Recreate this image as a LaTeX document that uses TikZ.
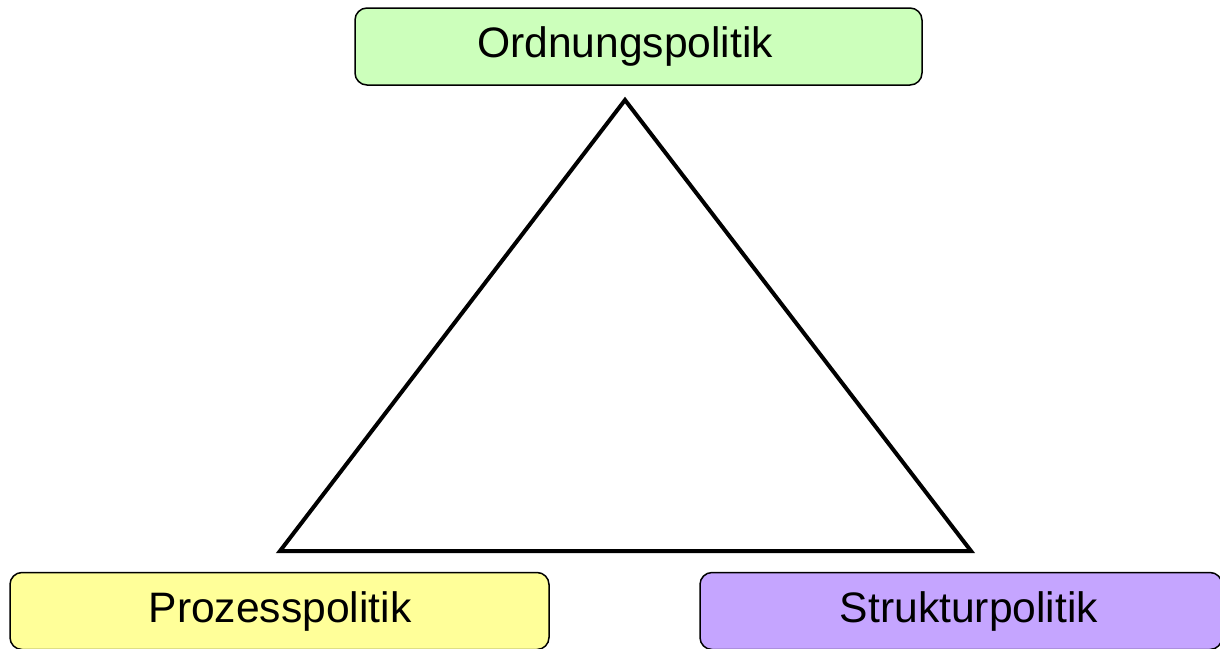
\documentclass[tikz,border=0pt]{standalone}
\usepackage{fontspec}
\setmainfont{Liberation Sans}
\definecolor{boxgreen}{RGB}{204,255,187}
\definecolor{boxyellow}{RGB}{255,255,153}
\definecolor{boxpurple}{RGB}{197,165,255}
\tikzset{
  pbox/.style={draw=black, line width=1.5pt, rounded corners=12pt, minimum height=77pt, inner sep=0pt},
  ptext/.style={font=\fontsize{42.6}{50}\selectfont, text=black, inner sep=0pt},
  tri/.style={draw=black, line width=4pt, line join=miter}
}
\begin{document}
\begin{tikzpicture}[x=1pt,y=-1pt]
\useasboundingbox (0,0) rectangle (1220,648);
\node[pbox, fill=boxgreen, minimum width=567pt] (ord) at (638.5,46.5) {};
\node[ptext] (ordt) at (625,46.5) {Ordnungspolitik};
\node[pbox, fill=boxyellow, minimum width=539pt] (proz) at (279.5,611) {};
\node[ptext] (prozt) at (280,611) {Prozesspolitik};
\node[pbox, fill=boxpurple, minimum width=522pt] (strukt) at (961,611) {};
\node[ptext] (struktt) at (969,611) {Strukturpolitik};
\coordinate (A) at (625,100);
\coordinate (B) at (280,551);
\coordinate (C) at (971,551);
\draw[tri] (A) -- (B) -- (C) -- cycle;
\end{tikzpicture}
\end{document}
